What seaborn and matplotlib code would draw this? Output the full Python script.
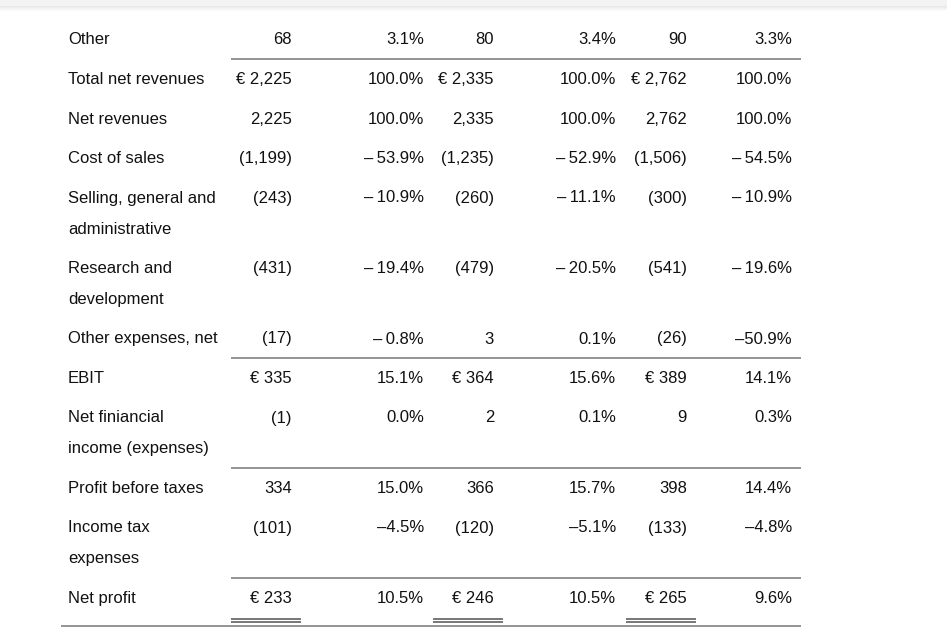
import numpy as np
import matplotlib
matplotlib.use("Agg")
import matplotlib.pyplot as plt
import seaborn as sns

# Income statement rows (label lines, then three years of value / share pairs)
labels = [
    ["Other"],
    ["Total net revenues"],
    ["Net revenues"],
    ["Cost of sales"],
    ["Selling, general and", "administrative"],
    ["Research and", "development"],
    ["Other expenses, net"],
    ["EBIT"],
    ["Net finiancial", "income (expenses)"],
    ["Profit before taxes"],
    ["Income tax", "expenses"],
    ["Net profit"],
]
year1_value = ["68", "\u20ac 2,225", "2,225", "(1,199)", "(243)", "(431)", "(17)", "\u20ac 335", "(1)", "334", "(101)", "\u20ac 233"]
year1_share = ["3.1%", "100.0%", "100.0%", "\u2013\u200953.9%", "\u2013\u200910.9%", "\u2013\u200919.4%", "\u2013\u20090.8%", "15.1%", "0.0%", "15.0%", "\u20134.5%", "10.5%"]
year2_value = ["80", "\u20ac 2,335", "2,335", "(1,235)", "(260)", "(479)", "3", "\u20ac 364", "2", "366", "(120)", "\u20ac 246"]
year2_share = ["3.4%", "100.0%", "100.0%", "\u2013\u200952.9%", "\u2013\u200911.1%", "\u2013\u200920.5%", "0.1%", "15.6%", "0.1%", "15.7%", "\u20135.1%", "10.5%"]
year3_value = ["90", "\u20ac 2,762", "2,762", "(1,506)", "(300)", "(541)", "(26)", "\u20ac 389", "9", "398", "(133)", "\u20ac 265"]
year3_share = ["3.3%", "100.0%", "100.0%", "\u2013\u200954.5%", "\u2013\u200910.9%", "\u2013\u200919.6%", "\u201350.9%", "14.1%", "0.3%", "14.4%", "\u20134.8%", "9.6%"]

rule_above = ["Total net revenues", "EBIT", "Profit before taxes", "Net profit"]

sns.set_theme(style="white")
plt.rcParams["font.family"] = ["Liberation Sans", "DejaVu Sans"]

fig = plt.figure(figsize=(9.47, 6.41), dpi=100)
ax = fig.add_axes([0, 0, 1, 1])
ax.set_xlim(0, 947)
ax.set_ylim(641, 0)
ax.axis("off")

# faint browser shadow at top
grad = np.concatenate([np.full(6, 0.955), np.linspace(0.91, 1.0, 6)])[:, None]
ax.imshow(grad, extent=[0, 947, 12, 0], cmap="gray", vmin=0, vmax=1, aspect="auto", zorder=0)

columns = [year1_value, year1_share, year2_value, year2_share, year3_value, year3_share]
col_right = [292, 424, 494, 616, 687, 792]
label_x = 68
fs = 12
txt = "#111111"
rule = "#777777"

y = 39.0
row_y = []
for lab in labels:
    row_y.append(y)
    y += 39.5 + 31 * (len(lab) - 1)

for i, lab in enumerate(labels):
    cy = row_y[i]
    for k, line in enumerate(lab):
        ax.text(label_x, cy + 31 * k + 5.5, line, ha="left", va="baseline", fontsize=fs, color=txt)
    for col, xr in zip(columns, col_right):
        ax.text(xr, cy + 5.5, col[i], ha="right", va="baseline", fontsize=fs, color=txt)
    if lab[0] in rule_above:
        ax.hlines(cy - 20, 231, 801, color=rule, lw=1.1)

# double underline under net profit values
last = row_y[-1]
for xr in col_right[0::2]:
    ax.hlines([last + 21, last + 24], xr - 61, xr + 9, color=rule, lw=1.4)
ax.hlines(last + 28, 61, 801, color=rule, lw=1.1)

fig.savefig("out.png", dpi=100)
